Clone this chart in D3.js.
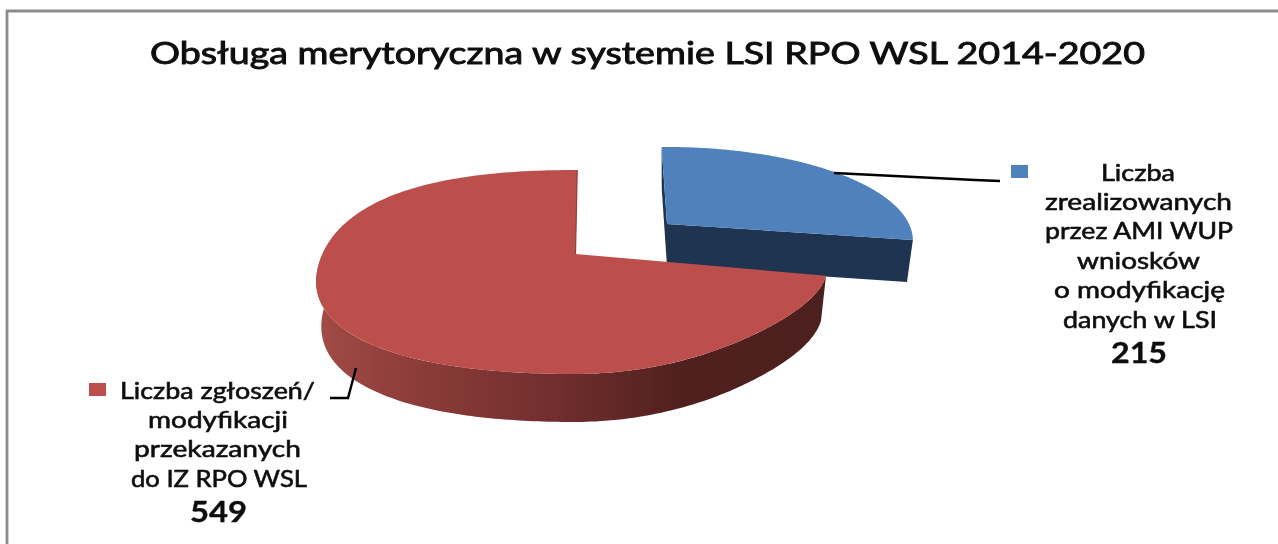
<!DOCTYPE html>
<html>
<head>
<meta charset="utf-8">
<script src="https://cdn.jsdelivr.net/npm/d3@7"></script>
<style>
html,body{margin:0;padding:0;background:#fff;overflow:hidden}
svg{display:block}
text{font-family:Lato,"Open Sans",sans-serif;fill:#111}
</style>
</head>
<body>
<svg id="c" width="1278" height="544"></svg>
<script>
const titleText = "Obsługa merytoryczna w systemie LSI RPO WSL 2014-2020";
const categories = ["Liczba zrealizowanych przez AMI WUP wniosków o modyfikację danych w LSI", "Liczba zgłoszeń/ modyfikacji przekazanych do IZ RPO WSL"];
const values = [215, 549];
const topColors = ["#4f81bd", "#bc4e4c"];
const labelLines = [
  ["Liczba", "zrealizowanych", "przez AMI WUP", "wniosków", "o modyfikację", "danych w LSI"],
  ["Liczba zgłoszeń/", "modyfikacji", "przekazanych", "do IZ RPO WSL"]
];

// layout (not data)
const shape = [
  {ax:667, ay:224, rx:242, ry:90.6, dx:0, rot:-1.5, d0:42, d1:42, bx:.976, bulge:{ul:0,ll:0,lr:0,ur:0}},
  {ax:575.5, ay:254, rx:251, ry:98.8, dx:-2, rot:1, d0:44, d1:48, bx:.98, bulge:{ul:.045,ll:.05,lr:-.05,ur:0}}
];
const persp = 0.1765;
const lineSpec = [
  [[1101,1175,181],[1045,1232,210],[1045,1233,239],[1077,1200,269],[1054,1225,298],[1063,1217,328]],
  [[120,315,399],[148,288,428],[134,301,457],[131,307,487]]
];
const valueSpec = [[1111,1167,363],[190,247,522]];
const markerSpec = [[1011,165],[89,383]];
const leaders = [
  [[834,173],[975,180],[1000,181]],
  [[356,368],[348,398],[330,398]]
];

const svg = d3.select("#c");
const defs = svg.append("defs");
defs.append("filter").attr("id","soft").append("feGaussianBlur").attr("stdDeviation",0.6);
const grad = defs.append("linearGradient").attr("id","redSide")
  .attr("gradientUnits","userSpaceOnUse").attr("x1",314).attr("x2",827).attr("y1",0).attr("y2",0);
[[0,"#a34b47"],[.17,"#8f3e3a"],[.45,"#732f2e"],[.72,"#50201e"],[1,"#4c201e"]]
  .forEach(s=>grad.append("stop").attr("offset",s[0]).attr("stop-color",s[1]));
const sideFill = ["#1f3450","url(#redSide)"];

// frame
const frame = svg.append("g").attr("fill","none").attr("stroke","#8c8c8c").attr("stroke-width",2.8);
frame.append("path").attr("d",d3.line()([[7,544],[7,11],[1278,11]]));

const pie = d3.pie().sort(null).value(d=>d);
const arcs = pie(values);
const line = d3.line();

function pt(s,r,t,bottom){
  const su=Math.sin(t), sv=-Math.cos(t);
  const a = su<0 ? (sv<0?s.bulge.ul:s.bulge.ll) : (sv<0?s.bulge.ur:s.bulge.lr);
  const m = r*(1+a*Math.pow(Math.sin(2*t),2));
  const u=su*m, v=sv*m, w=1-persp*v;
  let x=s.rx*u/w+s.dx*r, y=s.ry*v/w;
  if(bottom){
    x*=s.bx;
    y+=s.d0+(s.d1-s.d0)*Math.max(0,Math.min(1,v));
  }
  return [s.ax+x,s.ay+y];
}
function samples(a,b){
  return d3.range(0,201).map(i=>a+(b-a)*i/200);
}
arcs.forEach((a,i)=>{
  const s=shape[i], rot=s.rot*Math.PI/180;
  const t0=a.startAngle+rot, t1=a.endAngle+rot;
  const g=svg.append("g");
  // side walls
  if(i===0){
    g.append("path").attr("fill",sideFill[0]).attr("d",line([pt(s,1,t0),pt(s,1,t0,true),pt(s,0,0,true),pt(s,0,0)])+"Z");
    g.append("path").attr("fill",sideFill[0]).attr("d",line([pt(s,0,0),pt(s,1,t1),pt(s,1,t1,true),pt(s,0,0,true)])+"Z");
  } else {
    const th=samples(t0,Math.PI*1.6);
    const ring=th.map(t=>pt(s,1,t)).concat(th.slice().reverse().map(t=>pt(s,1,t,true)));
    g.append("path").attr("fill",sideFill[1]).attr("d",line(ring)+"Z");
  }
  // top face
  const face=[pt(s,0,0)].concat(samples(t0,t1).map(t=>pt(s,1,t)));
  g.append("path").attr("fill",topColors[i]).attr("d",line(face)+"Z");
  if(i===1){
    g.append("path").attr("fill","none").attr("stroke","#8f3e3a").attr("stroke-width",1.2)
      .attr("d",line([pt(s,0,0),pt(s,1,t1)]));
  }
});

// leaders
leaders.forEach(l=>svg.append("path").attr("d",line(l)).attr("fill","none").attr("stroke","#000").attr("stroke-width",2.4));

// legend markers and labels
const tg=svg.append("g").attr("filter","url(#soft)");
markerSpec.forEach((m,i)=>svg.append("rect").attr("x",m[0]).attr("y",m[1]).attr("width",17).attr("height",13).attr("fill",topColors[i]));
function put(str,sp,size,weight,sw){
  tg.append("text").attr("x",sp[0]).attr("y",sp[2]).attr("font-size",size).attr("font-weight",weight)
    .attr("stroke","#111").attr("stroke-width",sw)
    .attr("textLength",sp[1]-sp[0]).attr("lengthAdjust","spacingAndGlyphs").text(str);
}
labelLines.forEach((ls,i)=>ls.forEach((t,j)=>put(t,lineSpec[i][j],23,400,.6)));
values.forEach((v,i)=>put(String(v),valueSpec[i],29,700,.4));
put(titleText,[150,1145,64],30,400,.9);
</script>
</body>
</html>
